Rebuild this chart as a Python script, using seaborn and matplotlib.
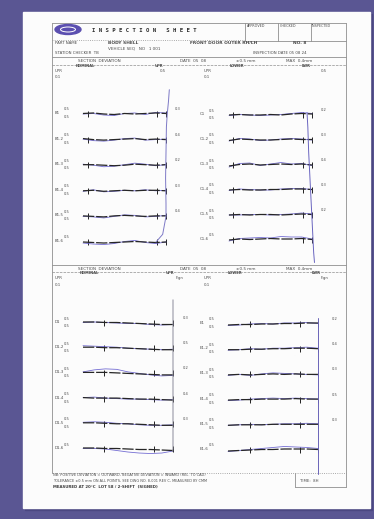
import pandas as pd
import matplotlib.pyplot as plt
import seaborn as sns
from matplotlib.patches import Rectangle, Ellipse

sns.set_theme(style="white")
plt.rcParams['font.family'] = ['DejaVu Sans']

W, H = 374, 519

# measuring stations along each section line (mm)
stations = [0, 12.5, 25, 37.5, 50, 62.5, 75, 87.5, 100]

# point names per panel
tl_names = ["B1", "B1-2", "B1-3", "B1-4", "B1-5", "B1-6"]
tr_names = ["C1", "C1-2", "C1-3", "C1-4", "C1-5", "C1-6"]
bl_names = ["D1", "D1-2", "D1-3", "D1-4", "D1-5", "D1-6"]
br_names = ["E1", "E1-2", "E1-3", "E1-4", "E1-5", "E1-6"]

# max deviation printed at the right of each trace
tl_max = [0.3, 0.4, 0.2, 0.3, 0.4]
tr_max = [0.2, 0.3, 0.4, 0.3, 0.2]
bl_max = [0.3, 0.5, 0.2, 0.4, 0.3]
br_max = [0.2, 0.4, 0.3, 0.5, 0.3]

# nominal (black) and measured (blue) deviation, one row per point
tl_black = [
    [0.1, 0.2, 0.0, -0.1, 0.1, 0.0, 0.1, 0.2, 0.1],
    [0.2, 0.0, -0.1, 0.0, 0.1, 0.2, 0.0, 0.1, 0.0],
    [0.1, 0.1, 0.0, -0.1, 0.0, 0.2, 0.1, 0.0, 0.1],
    [0.0, 0.1, -0.1, 0.0, 0.1, 0.0, 0.1, 0.1, 0.0],
    [0.1, 0.0, -0.1, 0.1, 0.2, 0.1, 0.0, 0.1, 0.1],
    [0.0, -0.1, -0.2, -0.1, 0.0, 0.1, 0.0, -0.1, 0.0],
]
tl_blue = [
    [0.0, 0.1, -0.2, -0.3, 0.1, 0.2, -0.1, 0.3, 0.2],
    [0.1, -0.2, -0.3, -0.1, 0.2, 0.3, -0.1, 0.0, 0.1],
    [0.2, 0.0, -0.3, -0.2, 0.1, 0.4, 0.2, -0.1, 0.1],
    [-0.1, 0.2, -0.2, -0.1, 0.1, 0.0, 0.2, 0.0, 0.1],
    [0.0, -0.1, -0.3, 0.0, 0.3, 0.2, -0.1, 0.0, 0.2],
    [-0.2, -0.4, -0.5, -0.3, 0.1, 0.3, -0.1, -0.3, 0.0],
]
tr_black = [
    [0.0, 0.1, 0.0, 0.0, 0.1, 0.0, 0.2, 0.3, 0.2],
    [-0.1, 0.2, 0.1, 0.0, 0.0, 0.1, 0.2, 0.1, 0.1],
    [-0.2, 0.1, 0.2, 0.0, 0.1, 0.2, 0.1, 0.2, 0.0],
    [0.0, 0.1, 0.0, 0.0, 0.1, 0.1, 0.2, 0.2, 0.1],
    [0.0, 0.1, 0.0, 0.1, 0.1, 0.0, 0.1, 0.2, 0.1],
    [0.0, 0.2, 0.1, 0.2, 0.3, 0.2, 0.2, 0.3, 0.1],
]
tr_blue = [
    [-0.1, 0.1, 0.0, -0.1, 0.0, 0.1, 0.3, 0.5, 0.3],
    [-0.2, 0.3, 0.2, -0.1, 0.0, 0.2, 0.3, 0.2, 0.0],
    [-0.4, 0.3, 0.4, -0.1, 0.2, 0.5, 0.2, 0.3, -0.1],
    [-0.1, 0.2, 0.1, 0.0, 0.0, 0.2, 0.3, 0.3, 0.1],
    [0.0, 0.0, 0.1, 0.1, 0.0, 0.1, 0.2, 0.4, 0.2],
    [-0.2, 0.3, 0.4, 0.5, 0.4, 0.7, 0.6, 0.6, 0.2],
]
bl_black = [
    [0.2, 0.2, 0.1, 0.1, 0.0, -0.1, -0.2, -0.3, -0.3],
    [0.2, 0.2, 0.1, 0.1, 0.0, -0.1, -0.2, -0.3, -0.3],
    [0.2, 0.2, 0.2, 0.1, 0.0, -0.1, -0.2, -0.3, -0.3],
    [0.2, 0.1, 0.1, 0.1, 0.0, -0.1, -0.1, -0.2, -0.3],
    [0.2, 0.2, 0.1, 0.0, 0.0, -0.1, -0.2, -0.3, -0.3],
    [0.2, 0.2, 0.1, 0.1, 0.0, -0.1, -0.1, -0.2, -0.3],
]
bl_blue = [
    [0.1, 0.2, 0.1, 0.0, -0.1, -0.1, -0.3, -0.4, -0.3],
    [0.5, 0.4, 0.3, 0.2, 0.0, -0.1, -0.2, -0.3, -0.2],
    [0.3, 0.7, 0.9, 0.8, 0.3, 0.0, -0.3, -0.5, -0.4],
    [0.2, 0.3, 0.1, 0.0, -0.1, -0.1, -0.2, -0.3, -0.2],
    [0.3, 0.4, 0.3, 0.1, 0.0, -0.2, -0.3, -0.3, -0.2],
    [0.1, 0.1, 0.0, -0.3, -0.6, -0.8, -0.9, -0.8, -0.4],
]
br_black = [
    [-0.2, -0.1, -0.1, 0.0, 0.0, 0.1, 0.1, 0.2, 0.2],
    [-0.1, -0.1, 0.0, 0.0, 0.1, 0.1, 0.2, 0.2, 0.1],
    [-0.1, 0.0, -0.1, 0.0, 0.1, 0.0, 0.1, 0.0, 0.0],
    [-0.1, 0.0, 0.0, 0.1, 0.1, 0.1, 0.2, 0.1, 0.1],
    [-0.1, 0.0, 0.0, 0.0, 0.1, 0.1, 0.1, 0.1, 0.1],
    [-0.2, -0.1, 0.0, 0.1, 0.1, 0.2, 0.2, 0.2, 0.1],
]
br_blue = [
    [-0.3, -0.2, 0.0, 0.1, 0.0, 0.2, 0.2, 0.3, 0.1],
    [-0.2, -0.1, 0.1, 0.0, 0.2, 0.2, 0.3, 0.4, 0.2],
    [-0.2, 0.0, -0.2, 0.1, 0.3, 0.2, 0.1, 0.0, -0.1],
    [-0.2, -0.1, 0.1, 0.2, 0.3, 0.2, 0.3, 0.2, 0.1],
    [-0.1, 0.0, 0.1, 0.0, 0.1, 0.2, 0.2, 0.3, 0.2],
    [-0.3, -0.1, 0.1, 0.3, 0.5, 0.7, 0.6, 0.5, 0.3],
]

# edge profile that closes each section (station, point level)
tl_spike_st = [88, 96, 100, 100, 99.5, 100, 100.5, 101.5, 103, 104]
tl_spike_lvl = [5.0, 4.7, 4.0, 3.5, 2.5, 1.5, 0.5, 0.0, -0.5, -0.95]
tr_spike_st = [94, 95, 96, 97.5, 99, 100.5, 102, 103]
tr_spike_lvl = [-0.1, 0.5, 1.5, 2.5, 3.5, 4.5, 5.5, 5.9]
bl_spike_st = [100, 100, 100, 99.5]
bl_spike_lvl = [-0.92, 3.0, 5.0, 5.1]
br_spike_st = [100, 100, 100]
br_spike_lvl = [-0.25, 5.0, 5.95]

# check marks on the nominal line (stations)
tl_ticks = [6, 89, 100]
tr_ticks = [5, 89, 100]
bl_ticks = [23, 79, 100]
br_ticks = [24, 80, 100]

DEV_SCALE = 0.2
PURPLE = '#5a5693'
TXT = '#4a4a4a'
LINE = '#8f8f8f'

fig = plt.figure(figsize=(W / 100, H / 100), dpi=100)
fig.patch.set_facecolor(PURPLE)
bg = fig.add_axes([0, 0, 1, 1])
bg.set_xlim(0, W)
bg.set_ylim(H, 0)
bg.axis('off')

# paper
bg.add_patch(Rectangle((25, 14), 347, 496, color='#4b4782', zorder=0))
bg.add_patch(Rectangle((23, 12), 347, 496, color='#fcfcfc', zorder=1))


def hline(y, x0=52, x1=346, ls='-', lw=0.6):
    bg.plot([x0, x1], [y, y], color=LINE, lw=lw, ls=ls, zorder=2)


def vline(x, y0, y1, ls='-', lw=0.6):
    bg.plot([x, x], [y0, y1], color=LINE, lw=lw, ls=ls, zorder=2)


def txt(x, y, s, size=3.0, **kw):
    kw.setdefault('color', TXT)
    bg.text(x, y, s, fontsize=size, ha='left', va='center', zorder=3, **kw)


# frame
hline(23)
vline(52, 23, 473)
vline(346, 23, 487)
hline(40, 52, 245, ls=':')
hline(41, 245, 346)
for x in [245, 278, 311]:
    vline(x, 23, 41)
hline(57)
hline(65, ls='--', lw=0.5)
hline(265)
hline(272, ls='--', lw=0.5)
hline(473, ls=':')
hline(487, 295, 346)
vline(295, 473, 487)

# header
bg.add_patch(Ellipse((68, 29.5), 26, 10, color='#5b4fb0', zorder=3))
bg.add_patch(Ellipse((68, 29.5), 15, 5, fill=False, ec='white', lw=0.7, zorder=4))
txt(92, 31, "I N S P E C T I O N   S H E E T", size=4.1, family='DejaVu Sans Mono',
    weight='bold', color='#2e2e2e')
txt(247, 26, "APPROVED", size=2.4)
txt(280, 26, "CHECKED", size=2.4)
txt(312, 26, "INSPECTED", size=2.4)
txt(55, 43.5, "PART NAME", size=2.8)
txt(108, 43.5, "BODY SHELL", size=3.2, weight='bold')
txt(190, 43.5, "FRONT DOOR OUTER RH/LH", size=3.2, weight='bold')
txt(293, 43.5, "NO. 8", size=3.2, weight='bold')
txt(108, 48.5, "VEHICLE SEQ   NO   1 001", size=3.0)
txt(55, 53.5, "STATION CHECKER  TB", size=2.8)
txt(253, 53.5, "INSPECTION DATE 05 08 24", size=2.8)

for y0 in [61, 268.5]:
    txt(78, y0, "SECTION  DEVIATION", size=3.0)
    txt(180, y0, "DATE  05  08", size=3.0)
    txt(236, y0, "\u00b10.5 mm", size=3.0)
    txt(286, y0, "MAX  0.4mm", size=3.0)
txt(76, 66.2, "NOMINAL", size=2.6, weight='bold')
txt(155, 66.2, "UPR", size=2.6, weight='bold')
txt(230, 66.2, "LOWER", size=2.6, weight='bold')
txt(302, 66.2, "LWR", size=2.6, weight='bold')
txt(80, 273.2, "NOMINAL", size=2.6, weight='bold')
txt(166, 273.2, "UPR", size=2.6, weight='bold')
txt(228, 273.2, "LOWER", size=2.6, weight='bold')
txt(312, 273.2, "LWR", size=2.6, weight='bold')
for y0, a, b in [(71, "UPR", "SEC"), (278, "UPR", "F.gn")]:
    txt(55, y0, a, size=2.8)
    txt(160 if y0 < 100 else 176, y0, "0.5" if y0 < 100 else b, size=2.8)
    txt(204, y0, a, size=2.8)
    txt(321, y0, "0.5" if y0 < 100 else b, size=2.8)
for y0 in [77, 285]:
    txt(55, y0, "0.1", size=2.8)
    txt(204, y0, "0.1", size=2.8)

# footer
txt(53, 475, "NB: POSITIVE DEVIATION = OUTWARD, NEGATIVE DEVIATION = INWARD (REL. TO CAD)", size=2.5)
txt(53, 480.5, "TOLERANCE \u00b10.5 mm ON ALL POINTS, SEE DWG NO. 8-001 REV C, MEASURED BY CMM", size=2.5)
txt(53, 486.5, "MEASURED AT 20\u00b0C  LOT 58 / 2-SHIFT  (SIGNED)", size=2.8, weight='bold', color='#3a3a3a')
txt(300, 480.5, "TIME:  8H", size=2.8)


def long_frame(dev):
    rows = []
    for i, row in enumerate(dev):
        for s, d in zip(stations, row):
            rows.append((i, s, i - d * DEV_SCALE))
    return pd.DataFrame(rows, columns=['point', 'station', 'level'])


def draw_panel(x0, x1, y0, y1, black, blue, spike_st, spike_lvl, ticks,
               names, maxes, name_dx, max_dx, spike_color):
    ax = fig.add_axes([x0 / W, 1 - y1 / H, (x1 - x0) / W, (y1 - y0) / H])
    sns.lineplot(data=long_frame(blue), x='station', y='level', units='point',
                 estimator=None, sort=False, color='#5d55cc', lw=0.6, alpha=0.85, ax=ax)
    n_blue = len(ax.lines)
    sns.lineplot(data=long_frame(black), x='station', y='level', units='point',
                 estimator=None, sort=False, color='#262626', lw=0.9, ax=ax)
    for ln in ax.lines[n_blue:]:
        ln.set_dashes((9, 1.5))
    tk = pd.DataFrame([(s, i) for i in range(len(black)) for s in ticks],
                      columns=['station', 'level'])
    sns.scatterplot(data=tk, x='station', y='level', marker='|', s=16,
                    linewidth=0.7, color='#222222', ax=ax)
    sns.lineplot(x=spike_st, y=spike_lvl, sort=False, estimator=None,
                 color=spike_color, lw=0.7, ax=ax)
    ax.set_xlim(0, 100)
    ax.set_ylim(5, 0)
    ax.axis('off')
    for art in ax.get_children():
        art.set_clip_on(False)
    if ax.get_legend():
        ax.get_legend().remove()

    # point labels
    step = (y1 - y0) / 5
    for i, nm in enumerate(names):
        yy = y0 + i * step
        txt(x0 - name_dx, yy - 1, nm, size=2.8)
        if i < len(names) - 1:
            txt(x0 - name_dx + 9, yy - 4.5, "0.5", size=2.6)
            txt(x0 - name_dx + 9, yy + 3, "0.5", size=2.6)
            txt(x1 + max_dx, yy - 5, f"{maxes[i]:.1f}", size=2.6)
        else:
            txt(x0 - name_dx + 9, yy - 4.5, "0.5", size=2.6)


draw_panel(83, 166, 114, 242, tl_black, tl_blue, tl_spike_st, tl_spike_lvl, tl_ticks,
           tl_names, tl_max, 28, 9, '#7d79c6')
draw_panel(229, 312, 115, 240, tr_black, tr_blue, tr_spike_st, tr_spike_lvl, tr_ticks,
           tr_names, tr_max, 29, 9, '#6a65c0')
draw_panel(83, 173, 323, 449, bl_black, bl_blue, bl_spike_st, bl_spike_lvl, bl_ticks,
           bl_names, bl_max, 28, 10, '#8a8a9a')
draw_panel(228, 318, 324, 450, br_black, br_blue, br_spike_st, br_spike_lvl, br_ticks,
           br_names, br_max, 28, 14, '#6a64b8')

fig.savefig('out.png', dpi=100, facecolor=fig.get_facecolor())
